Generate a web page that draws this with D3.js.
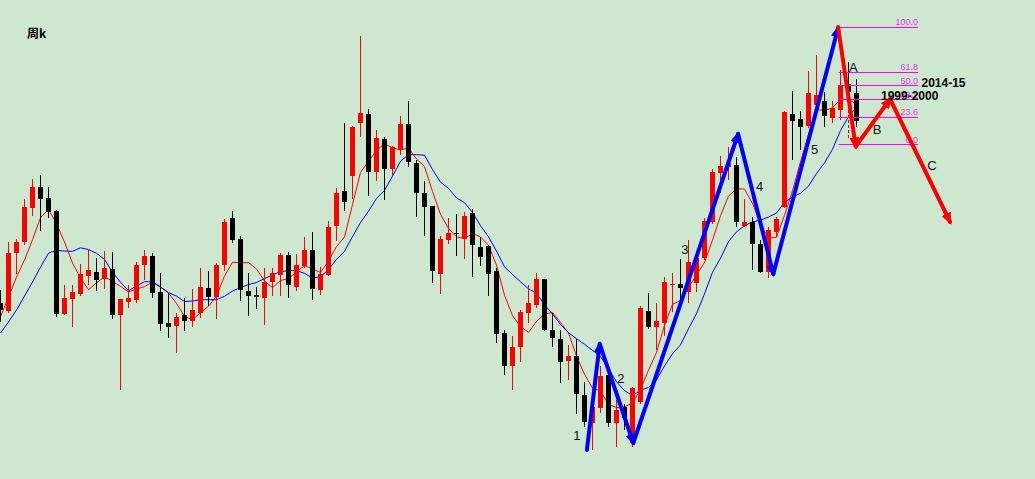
<!DOCTYPE html>
<html><head><meta charset="utf-8">
<script src="https://cdn.jsdelivr.net/npm/d3@7"></script>
<style>html,body{margin:0;padding:0;background:#cde8cf;overflow:hidden}svg{display:block}</style>
</head><body><svg id="c" width="1035" height="479"></svg>
<script>
// weekly candles (price units)
const openV  = [177,169,227,238,272,293,282,269,166,181,186,204,208,201,211,165,178,180,215,224,188,157,154,165,159,167,192,183,215,262,241,189,185,182,198,205,225,193,214,230,190,205,254,289,304,357,366,308,341,311,331,356,317,287,274,206,240,247,241,267,233,234,209,147,114,133,167,175,201,150,141,119,124,85,57,72,105,57,73,37,78,169,153,157,195,196,188,197,222,258,307,313,315,254,258,236,208,248,273,366,361,354,375,379,362,370,396,387];
const highV  = [190,238,241,281,301,305,293,270,195,195,216,231,222,229,228,181,195,218,230,227,207,187,167,182,191,212,209,217,261,269,244,207,193,212,212,227,228,226,243,248,213,259,292,357,354,444,371,350,343,334,364,379,320,299,274,244,262,266,268,271,243,235,212,150,144,170,195,207,201,167,150,135,141,98,87,114,108,80,76,93,174,187,177,203,207,221,240,227,262,311,324,333,323,281,263,240,253,263,369,389,369,409,425,388,379,410,418,401];
const lowV   = [158,167,206,235,264,249,262,163,165,153,184,195,189,191,161,90,172,177,200,182,149,142,127,149,153,162,174,161,209,237,179,164,171,155,184,184,182,189,212,180,185,204,239,269,281,343,284,299,280,304,325,313,263,244,197,186,236,224,221,203,214,184,137,105,90,118,157,172,149,133,97,100,66,53,30,67,53,33,50,33,76,151,130,144,168,177,177,188,220,256,287,300,253,253,210,207,202,243,272,320,330,352,368,353,357,360,380,353];
const closeV = [170,227,238,273,293,281,268,166,182,188,206,210,200,212,165,181,182,215,224,187,156,153,163,159,170,193,183,215,258,240,190,184,183,198,207,225,195,215,230,191,206,253,287,278,353,367,308,342,311,333,356,318,287,273,209,241,247,246,264,235,223,206,146,114,133,168,177,201,150,142,118,124,86,58,73,104,57,70,62,92,172,153,159,198,196,192,218,222,259,308,314,317,258,258,236,208,250,261,368,359,353,387,385,364,372,395,388,359];
// closes of the nine weeks before the first visible candle (feed the moving averages)
const priorCloses = [117,118,133,153,132.5,128.5,138,188,192];
const maPeriods = [5, 10];
const maColors = ["#ff0000", "#0000ff"];

// wave annotations [index, price]
const blueWave = [[73.3,30],[74.9,136],[79.1,37],[92.2,346],[96.6,206],[104.7,452]];
const redWave  = [[104.7,453],[106.9,333.5],[111.2,381],[118.7,258]];
const fibRatios = ["100.0","61.8","50.0","38.2","23.6","0.0"];
const fibHigh = 453.3, fibLow = 335.7, fibStart = 104.75, fibEnd = 114.7;
const waveLabels = [
  {t:"1", i:72.06, v:40}, {t:"2", i:77.56, v:97}, {t:"3", i:85.56, v:226},
  {t:"4", i:94.9, v:289}, {t:"5", i:101.75, v:326},
  {t:"A", i:106.6, v:408}, {t:"B", i:109.56, v:346}, {t:"C", i:116.44, v:310}
];
const periodLabels = [{t:"2014-15", i:115.125, v:393}, {t:"1999-2000", i:110.06, v:380}];
const dashedMark = {i:106, from:380, to:340};
const title = "周k";

const W = 1035, H = 479;
const svg = d3.select("#c");
svg.append("rect").attr("width", W).attr("height", H).attr("fill", "#cde8cf");

const x = d3.scaleLinear().domain([0, 129]).range([0.5, 1032.5]);
const y = d3.scaleLinear().domain([0, 480]).range([480, 0]);

const candles = openV.map((o, i) => ({i, o, h: highV[i], l: lowV[i], c: closeV[i]}));

// moving averages
const allC = priorCloses.concat(closeV);
const off = priorCloses.length;
maPeriods.forEach((n, mi) => {
  const pts = closeV.map((_, i) => {
    const s = allC.slice(i + off - n + 1, i + off + 1);
    return [i, d3.mean(s)];
  });
  svg.append("path")
    .attr("d", d3.line().x(d => x(d[0])).y(d => y(d[1]))(pts))
    .attr("fill", "none").attr("stroke", maColors[mi]).attr("stroke-width", 1);
});

// candles
const g = svg.append("g").attr("shape-rendering", "crispEdges");
candles.forEach(d => {
  const col = d.c >= d.o ? "#ff0000" : "#000000";
  g.append("line").attr("x1", x(d.i)).attr("x2", x(d.i))
    .attr("y1", Math.round(y(d.h))).attr("y2", Math.round(y(d.l)))
    .attr("stroke", col).attr("stroke-width", 1);
  const top = Math.round(y(Math.max(d.o, d.c)));
  const bot = Math.round(y(Math.min(d.o, d.c)));
  g.append("rect").attr("x", x(d.i) - 2.5).attr("y", top)
    .attr("width", 5).attr("height", Math.max(1, bot - top)).attr("fill", col);
});

// dashed mark
svg.append("line").attr("x1", x(dashedMark.i)).attr("x2", x(dashedMark.i))
  .attr("y1", y(dashedMark.from)).attr("y2", y(dashedMark.to))
  .attr("stroke", "#ff0000").attr("stroke-width", 1).attr("stroke-dasharray", "3,2");

// fib levels
const fg = svg.append("g");
fibRatios.forEach(r => {
  const v = fibLow + (fibHigh - fibLow) * (+r) / 100;
  fg.append("line").attr("x1", x(fibStart)).attr("x2", x(fibEnd))
    .attr("y1", Math.round(y(v)) + 0.5).attr("y2", Math.round(y(v)) + 0.5)
    .attr("stroke", "#ff00ff").attr("stroke-width", 1);
  fg.append("text").attr("x", x(fibEnd)).attr("y", y(v) - 1.5)
    .attr("text-anchor", "end").attr("font-family", "Liberation Sans, Arial, sans-serif")
    .attr("font-size", 9).attr("fill", "#ee33ee").text(r);
});

// arrow markers
const defs = svg.append("defs");
[["arB","#0000ff"],["arR","#ff0000"]].forEach(([id,c]) => {
  defs.append("marker").attr("id", id).attr("markerUnits", "userSpaceOnUse")
    .attr("markerWidth", 12).attr("markerHeight", 10).attr("refX", 9).attr("refY", 5)
    .attr("orient", "auto")
    .append("path").attr("d", "M0,0 L12,5 L0,10 Z").attr("fill", c);
});
function drawWave(pts, color, mid) {
  for (let k = 0; k < pts.length - 1; k++) {
    svg.append("line")
      .attr("x1", x(pts[k][0])).attr("y1", y(pts[k][1]))
      .attr("x2", x(pts[k+1][0])).attr("y2", y(pts[k+1][1]))
      .attr("stroke", color).attr("stroke-width", 4).attr("stroke-linecap", "round")
      .attr("marker-end", "url(#" + mid + ")");
  }
}
drawWave(blueWave, "#0000ff", "arB");
drawWave(redWave, "#ff0000", "arR");

// labels
waveLabels.forEach(d => {
  svg.append("text").attr("x", x(d.i)).attr("y", y(d.v)).attr("text-anchor", "middle")
    .attr("font-family", "Liberation Sans, Arial, sans-serif").attr("font-size", 13)
    .attr("fill", "#111").text(d.t);
});
periodLabels.forEach(d => {
  svg.append("text").attr("x", x(d.i)).attr("y", y(d.v))
    .attr("font-family", "Liberation Sans, Arial, sans-serif").attr("font-size", 12)
    .attr("font-weight", "bold").attr("fill", "#000").text(d.t);
});
svg.append("text").attr("x", 27).attr("y", 38)
  .attr("font-family", "Noto Sans CJK SC, sans-serif").attr("font-size", 12)
  .attr("font-weight", "bold").attr("fill", "#000").text(title);
</script>
</body></html>
